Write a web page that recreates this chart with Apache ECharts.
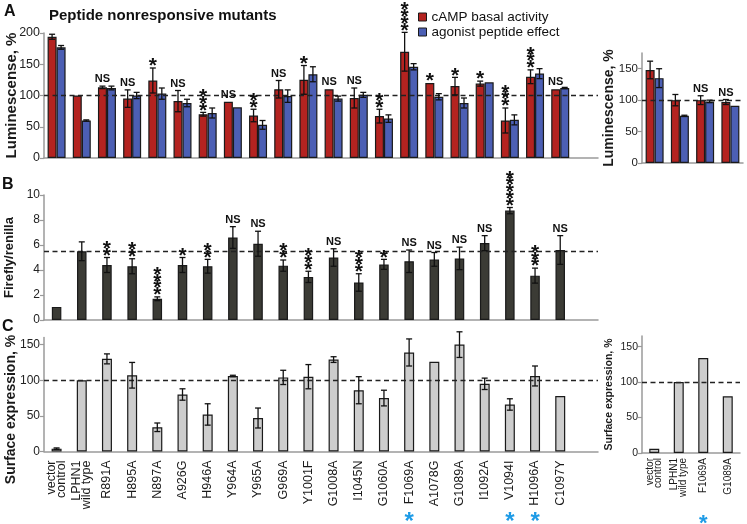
<!DOCTYPE html>
<html>
<head>
<meta charset="utf-8">
<script src="https://cdn.jsdelivr.net/npm/echarts@6/dist/echarts.min.js"></script>
<style>
  html, body { margin: 0; padding: 0; background: #fff; }
  #chart { width: 747px; height: 524px; }
</style>
</head>
<body>
<div id="chart"></div>
<script>
// mutants, shared by panels A, B and C
const categories = ['vector\ncontrol', 'LPHN1\nwild type', 'R891A', 'H895A', 'N897A', 'A926G', 'H946A',
  'Y964A', 'Y965A', 'G969A', 'Y1001F', 'G1008A', 'I1045N', 'G1060A', 'F1069A', 'A1078G', 'G1089A',
  'I1092A', 'V1094I', 'H1096A', 'C1097Y']

// A: luminescence, %
const basal = [194, 100, 113, 95, 124, 91, 70, 90, 68, 110, 125, 110, 96, 67, 170, 120, 115, 119, 60, 130, 110]
const basalErr = [4, 0, 2, 14, 20, 17, 3, 0, 10, 14, 23, 0, 16, 11, 31, 0, 14, 4, 20, 11, 0]
const peptide = [177, 60, 112, 100, 103, 88, 72, 81, 53, 99, 134, 95, 101, 63, 146, 98, 88, 121, 61, 135, 112]
const peptideErr = [3, 1, 3, 5, 9, 6, 8, 0, 7, 10, 12, 4, 4, 6, 5, 5, 8, 0, 8, 8, 1]
const sigA = ['', '', 'NS', 'NS', '*', 'NS', '***', 'NS', '**', 'NS', '*', 'NS', 'NS', '**', '****', '*', '*', '*', '***', '***', 'NS']

// A, right: luminescence, %
const sideCategories = ['vector\ncontrol', 'LPHN1\nwild type', 'F1069A', 'G1089A']
const sideBasal = [148, 100, 100, 97]
const sideBasalErr = [14, 9, 7, 4]
const sidePeptide = [135, 75, 98, 91]
const sidePeptideErr = [15, 1, 2, 0]
const sideSigA = ['', '', 'NS', 'NS']

// B: firefly/renilla
const firefly = [1.05, 5.5, 4.4, 4.3, 1.7, 4.4, 4.3, 6.6, 6.1, 4.35, 3.45, 5.0, 3.0, 4.45, 4.7, 4.85, 4.93, 6.15, 8.75, 3.55, 5.6]
const fireflyErr = [0, 0.75, 0.6, 0.6, 0.15, 0.6, 0.55, 0.87, 1.0, 0.45, 0.45, 0.7, 0.7, 0.4, 0.9, 0.55, 0.9, 0.6, 0.25, 0.6, 1.15]
const sigB = ['', '', '**', '**', '****', '*', '**', 'NS', 'NS', '**', '***', 'NS', '***', '*', 'NS', 'NS', 'NS', 'NS', '*****', '***', 'NS']

// C: surface expression, %
const surface = [4, 100, 130, 107, 34, 80, 52, 106, 47, 104, 105, 129, 86, 75, 139, 126, 150, 95, 66, 106, 78]
const surfaceErr = [1, 0, 7, 18, 6, 8, 15, 1, 14, 10, 17, 4, 19, 11, 19, 0, 18, 8, 8, 14, 0]
const sideSurface = [6, 100, 134, 80]
const marked = ['F1069A', 'V1094I', 'H1096A']
const sideMarked = ['F1069A']

const FONT = '"Liberation Sans", Arial, Helvetica, sans-serif'
const RED = '#b42320'
const BLUE = '#4c5fb4'
const EDGE = '#1a1a1a'
const AXIS = '#9a9a9a'

const chart = echarts.init(document.getElementById('chart'))

const catAxis = (grid, data, label) => ({
  type: 'category',
  gridIndex: grid,
  data: data,
  axisLine: { lineStyle: { color: AXIS, width: 1.5 } },
  axisTick: {
    alignWithLabel: true,
    length: 5,
    interval: (i) => i < categories.length,
    lineStyle: { color: AXIS, width: 1.2 }
  },
  axisLabel: label ? Object.assign({
    interval: 0,
    rotate: 90,
    fontFamily: FONT,
    color: '#1a1a1a'
  }, label) : { show: false },
  splitLine: { show: false }
})

const valueAxis = (o) => ({
  type: 'value',
  gridIndex: o.grid,
  min: 0,
  max: o.max,
  interval: o.step,
  name: o.name,
  nameLocation: 'middle',
  nameRotate: 90,
  nameGap: o.gap,
  nameMoveOverlap: false,
  nameTextStyle: {
    fontFamily: FONT,
    fontWeight: 'bold',
    fontSize: o.nameSize,
    color: '#1a1a1a',
    padding: o.pad || 0
  },
  axisLine: { show: true, lineStyle: { color: AXIS, width: 1.5 } },
  axisTick: { show: true, length: 4, customValues: o.ticks, lineStyle: { color: AXIS, width: 1.2 } },
  axisLabel: {
    fontFamily: FONT,
    fontSize: o.labelSize,
    color: '#222',
    margin: 4,
    customValues: o.ticks,
    formatter: (v) => (v % o.step === 0 ? String(v) : '')
  },
  splitLine: { show: false }
})

const dashed = (v) => ({
  silent: true,
  symbol: 'none',
  label: { show: false },
  lineStyle: { color: '#222', type: [5, 3.5], width: 1.4 },
  data: [{ yAxis: v }]
})

const bar = (name, xi, yi, data, color, width, extra) => Object.assign({
  name: name,
  type: 'bar',
  xAxisIndex: xi,
  yAxisIndex: yi,
  data: data,
  barWidth: width,
  barGap: '0%',
  itemStyle: { color: color, borderColor: EDGE, borderWidth: 1.2 }
}, extra || {})

// error bars drawn on top of the bars, dx shifts to the bar inside a group
const errorBars = (xi, yi, vals, errs, dx) => ({
  type: 'custom',
  xAxisIndex: xi,
  yAxisIndex: yi,
  z: 5,
  silent: true,
  data: vals.map((v, i) => [i, v, errs[i]]),
  encode: { x: 0, y: 1 },
  renderItem: (params, api) => {
    const i = api.value(0)
    const v = api.value(1)
    const e = api.value(2)
    if (!e) return { type: 'group', children: [] }
    const hi = api.coord([i, v + e])
    const lo = api.coord([i, v - e])
    const x = hi[0] + dx
    const style = { stroke: '#111', lineWidth: 1.3 }
    return {
      type: 'group',
      children: [
        { type: 'line', shape: { x1: x, y1: hi[1], x2: x, y2: lo[1] }, style: style },
        { type: 'line', shape: { x1: x - 3, y1: hi[1], x2: x + 3, y2: hi[1] }, style: style },
        { type: 'line', shape: { x1: x - 3, y1: lo[1], x2: x + 3, y2: lo[1] }, style: style }
      ]
    }
  }
})

// NS / stars above the error bar
const sigMarks = (xi, yi, vals, errs, labels, dx) => ({
  type: 'custom',
  xAxisIndex: xi,
  yAxisIndex: yi,
  z: 6,
  silent: true,
  data: vals.map((v, i) => [i, v + errs[i]]),
  encode: { x: 0, y: 1 },
  renderItem: (params, api) => {
    const i = api.value(0)
    const label = labels[i]
    if (!label) return { type: 'group', children: [] }
    const p = api.coord([i, api.value(1)])
    const x = p[0] + dx
    if (label === 'NS') {
      return {
        type: 'text',
        style: { text: 'NS', x: x, y: p[1] - 1.5, align: 'center', verticalAlign: 'bottom', font: 'bold 11px ' + FONT, fill: '#111' }
      }
    }
    const children = []
    for (let k = 0; k < label.length; k++) {
      children.push({
        type: 'text',
        style: { text: '*', x: x, y: p[1] - 1.5 - k * 6.8, align: 'center', verticalAlign: 'middle', font: 'bold 21px ' + FONT, fill: '#111' }
      })
    }
    return { type: 'group', children: children }
  }
})

// blue asterisks under some tick labels
const blueStars = (xi, yi, cats, names, offset, size) => ({
  type: 'custom',
  xAxisIndex: xi,
  yAxisIndex: yi,
  z: 6,
  silent: true,
  clip: false,
  data: names.map(n => [cats.indexOf(n), 0]),
  encode: { x: 0, y: 1 },
  renderItem: (params, api) => {
    const c = api.coord([api.value(0), 0])
    return {
      type: 'text',
      style: { text: '*', x: c[0], y: c[1] + offset, align: 'center', verticalAlign: 'middle', font: 'bold ' + size + 'px ' + FONT, fill: '#1e9be6' }
    }
  }
})

const axisCats = categories.concat([''])

const option = {
  animation: false,
  title: [
    { text: 'A', left: 4, top: 4, padding: 0, textStyle: { fontFamily: FONT, fontSize: 16, fontWeight: 'bold', color: '#111' } },
    { text: 'Peptide nonresponsive mutants', left: 49, top: 8, padding: 0, textStyle: { fontFamily: FONT, fontSize: 15, fontWeight: 'bold', color: '#111' } },
    { text: 'B', left: 2, top: 177, padding: 0, textStyle: { fontFamily: FONT, fontSize: 16, fontWeight: 'bold', color: '#111' } },
    { text: 'C', left: 2, top: 319, padding: 0, textStyle: { fontFamily: FONT, fontSize: 16, fontWeight: 'bold', color: '#111' } }
  ],
  legend: {
    orient: 'vertical',
    left: 418,
    top: 10,
    padding: 0,
    itemWidth: 8,
    itemHeight: 8,
    itemGap: 1,
    icon: 'rect',
    selectedMode: false,
    data: ['cAMP basal activity', 'agonist peptide effect'],
    itemStyle: { borderColor: EDGE, borderWidth: 1 },
    textStyle: { fontFamily: FONT, fontSize: 13.5, color: '#111' }
  },
  grid: [
    { left: 44, top: 33, width: 554, height: 125, outerBoundsMode: 'none' },
    { left: 642, top: 53, width: 101, height: 110, outerBoundsMode: 'none' },
    { left: 44, top: 195, width: 554, height: 125, outerBoundsMode: 'none' },
    { left: 44, top: 337.5, width: 554, height: 114, outerBoundsMode: 'none' },
    { left: 642, top: 336, width: 98, height: 117, outerBoundsMode: 'none' }
  ],
  xAxis: [
    catAxis(0, axisCats),
    catAxis(1, sideCategories),
    catAxis(2, axisCats),
    catAxis(3, axisCats, { fontSize: 12.5, lineHeight: 10.5, margin: 9 }),
    catAxis(4, sideCategories, { fontSize: 10, lineHeight: 8.5, margin: 5 })
  ],
  yAxis: [
    valueAxis({ grid: 0, max: 200, step: 50, name: 'Luminescense, %', nameSize: 15, gap: 25, labelSize: 12.5 }),
    valueAxis({ grid: 1, max: 175, step: 50, ticks: [0, 50, 100, 150], name: 'Luminescense, %', nameSize: 14, gap: 26, labelSize: 11.5 }),
    valueAxis({ grid: 2, max: 10, step: 2, name: 'Firefly/renilla', nameSize: 13, gap: 28, labelSize: 12 }),
    valueAxis({ grid: 3, max: 160, step: 50, ticks: [0, 50, 100, 150], name: 'Surface expression, %', nameSize: 14, gap: 26, labelSize: 12, pad: [0, 30, 0, 0] }),
    valueAxis({ grid: 4, max: 165, step: 50, ticks: [0, 50, 100, 150], name: 'Surface expression, %', nameSize: 10.5, gap: 27, labelSize: 10.5 })
  ],
  series: [
    bar('cAMP basal activity', 0, 0, basal, RED, 9, { markLine: dashed(100) }),
    bar('agonist peptide effect', 0, 0, peptide, BLUE, 9),
    errorBars(0, 0, basal, basalErr, -4.5),
    errorBars(0, 0, peptide, peptideErr, 4.5),
    sigMarks(0, 0, basal, basalErr, sigA, -4.5),

    bar('cAMP basal activity', 1, 1, sideBasal, RED, 9, { markLine: dashed(100) }),
    bar('agonist peptide effect', 1, 1, sidePeptide, BLUE, 9),
    errorBars(1, 1, sideBasal, sideBasalErr, -4.5),
    errorBars(1, 1, sidePeptide, sidePeptideErr, 4.5),
    sigMarks(1, 1, sideBasal, sideBasalErr, sideSigA, -4.5),

    bar('Firefly/renilla', 2, 2, firefly, '#3b3b35', 9.5, { markLine: dashed(5.5) }),
    errorBars(2, 2, firefly, fireflyErr, 0),
    sigMarks(2, 2, firefly, fireflyErr, sigB, 0),

    bar('Surface expression', 3, 3, surface, '#cdcdcd', 10, { markLine: dashed(100) }),
    errorBars(3, 3, surface, surfaceErr, 0),
    blueStars(3, 3, categories, marked, 71, 24),

    bar('Surface expression, control', 4, 4, sideSurface, '#cdcdcd', 10, { markLine: dashed(100) }),
    blueStars(4, 4, sideCategories, sideMarked, 71, 22)
  ]
}

chart.setOption(option)
</script>
</body>
</html>
